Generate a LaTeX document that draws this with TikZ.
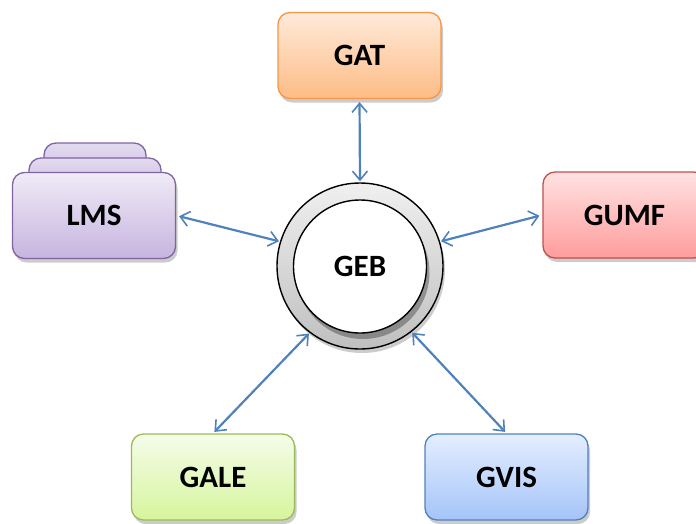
\documentclass[tikz,border=0pt]{standalone}
\usepackage{fontspec}
\setmainfont{Carlito}
\usetikzlibrary{arrows.meta,shadows}
\definecolor{arrowblue}{HTML}{4F81BD}
\definecolor{gatline}{HTML}{F79646}\definecolor{gattop}{HTML}{FFEADA}\definecolor{gatbot}{HTML}{FDBC86}
\definecolor{lmsline}{HTML}{8064A2}\definecolor{lmstop}{HTML}{F0EBF7}\definecolor{lmsbot}{HTML}{C6B4DF}
\definecolor{gumfline}{HTML}{C0504D}\definecolor{gumftop}{HTML}{FFE2E2}\definecolor{gumfbot}{HTML}{FF9C9C}
\definecolor{galeline}{HTML}{9BBB59}\definecolor{galetop}{HTML}{F5FCEA}\definecolor{galebot}{HTML}{D6F59C}
\definecolor{gvisline}{HTML}{4F81BD}\definecolor{gvistop}{HTML}{E4EEFF}\definecolor{gvisbot}{HTML}{A5C4F9}
\tikzset{
  label font/.style={font=\fontsize{31}{34}\selectfont\bfseries},
  softshadow/.style={drop shadow={shadow xshift=2pt, shadow yshift=-4pt, opacity=0.2, fill=black}},
  box/.style={rounded corners=12pt, line width=1.3pt, minimum width=163pt,
    minimum height=86pt, label font, softshadow},
  layer/.style={draw=lmsline, line width=1.3pt, rounded corners=12pt,
    top color=lmstop!70!lmsbot, bottom color=lmsbot},
  barb/.tip={Straight Barb[length=9pt,width=15pt,line width=1.6pt]},
  link/.style={draw=arrowblue, line width=2.2pt, barb-barb}
}
\begin{document}
\begin{tikzpicture}[x=1pt,y=-1pt]
  \useasboundingbox (0,0) rectangle (696,523);
  \clip (0,0) rectangle (696,523);

  % stacked layers behind LMS
  \draw[layer] (44,190) -- (44,143) -- (146,143) -- (146,190);
  \draw[layer] (29,200) -- (29,158) -- (161,158) -- (161,200);

  % modules
  \node[box, draw=gatline, top color=gattop, bottom color=gatbot] (gat) at (359.5,55.5) {GAT};
  \node[box, draw=lmsline, top color=lmstop, bottom color=lmsbot] (lms) at (94,215.5) {LMS};
  \node[box, draw=gumfline, top color=gumftop, bottom color=gumfbot] (gumf) at (624.5,215) {GUMF};
  \node[box, draw=galeline, top color=galetop, bottom color=galebot] (gale) at (213,477) {GALE};
  \node[box, draw=gvisline, top color=gvistop, bottom color=gvisbot] (gvis) at (506.5,477) {GVIS};

  % central hub: shaded ring with a white disc
  \node[circle, minimum size=166pt, draw=black, line width=1.4pt,
    top color=gray!12, bottom color=gray!50, softshadow] (geb) at (360,266) {};
  \node[circle, minimum size=133pt, draw=black, line width=1.4pt, fill=white,
    drop shadow={shadow xshift=3pt, shadow yshift=-6pt, opacity=0.3, fill=black},
    label font] (gebin) at (360,266.5) {GEB};

  % connectors
  \draw[link, shorten <=3pt, shorten >=1pt] (gat.south) -- (geb.north);
  \draw[link, shorten <=3pt, shorten >=1pt] (lms.east) -- (geb.163);
  \draw[link, shorten <=3pt, shorten >=1pt] (gumf.west) -- (geb.17);
  \draw[link, shorten <=2pt, shorten >=1pt] (gale.north) -- (geb.233);
  \draw[link, shorten <=2pt, shorten >=1pt] (gvis.north) -- (geb.308);
\end{tikzpicture}
\end{document}
